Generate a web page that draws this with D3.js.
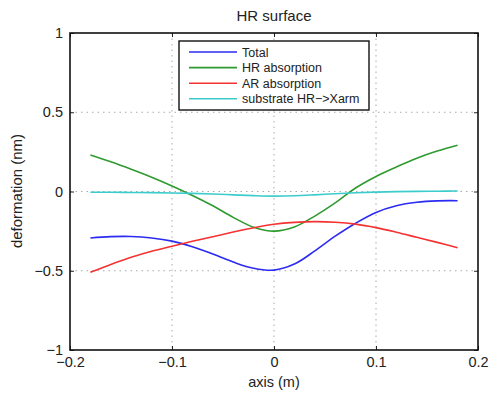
<!DOCTYPE html>
<html><head><meta charset="utf-8">
<script src="https://cdn.jsdelivr.net/npm/d3@7"></script>
<style>body{margin:0;background:#fff}text{font-family:"Liberation Sans",Arial,sans-serif}</style>
</head><body><svg id="c" width="491" height="396"></svg>
<script>
const xs = [-0.18,-0.16,-0.14,-0.12,-0.10,-0.08,-0.06,-0.04,-0.02,0.00,0.02,0.04,0.06,0.08,0.10,0.12,0.14,0.16,0.18];
const total = [-0.293,-0.285,-0.284,-0.293,-0.313,-0.348,-0.395,-0.445,-0.484,-0.496,-0.458,-0.375,-0.282,-0.2,-0.132,-0.09,-0.068,-0.059,-0.058];
const hrAbs = [0.23,0.187,0.14,0.09,0.035,-0.025,-0.09,-0.163,-0.225,-0.25,-0.224,-0.155,-0.072,0.022,0.095,0.155,0.21,0.255,0.292];
const arAbs = [-0.51,-0.46,-0.415,-0.377,-0.345,-0.314,-0.285,-0.256,-0.229,-0.207,-0.195,-0.19,-0.194,-0.206,-0.228,-0.257,-0.289,-0.321,-0.355];
const substrate = [-0.005,-0.005,-0.006,-0.007,-0.009,-0.012,-0.016,-0.021,-0.026,-0.029,-0.027,-0.021,-0.014,-0.008,-0.004,-0.001,0.001,0.002,0.003];
const seriesNames = ["Total","HR absorption","AR absorption","substrate HR\u2212>Xarm"];
const seriesColors = ["#2b2bf2","#2f9a2f","#f53232","#3ccccc"];
const xTicks = [-0.2,-0.1,0,0.1,0.2];
const yTicks = [-1,-0.5,0,0.5,1];

const svg = d3.select("#c");
const L=70,R=478,T=33,B=350;
const x = d3.scaleLinear().domain([-0.2,0.2]).range([L,R]);
const y = d3.scaleLinear().domain([-1,1]).range([B,T]);
const fmt = v => (v<0?"\u2212":"") + Math.abs(v);

// grid
const g = svg.append("g");
g.selectAll(".gx").data(xTicks.slice(1,-1)).enter().append("line")
 .attr("x1",d=>x(d)).attr("x2",d=>x(d)).attr("y1",T).attr("y2",B)
 .attr("stroke","#aaa").attr("stroke-width",1).attr("stroke-dasharray","1.5,4");
g.selectAll(".gy").data(yTicks.slice(1,-1)).enter().append("line")
 .attr("y1",d=>y(d)).attr("y2",d=>y(d)).attr("x1",L).attr("x2",R)
 .attr("stroke","#aaa").attr("stroke-width",1).attr("stroke-dasharray","1.5,4");

// axes
const ax = svg.append("g").attr("transform",`translate(0,${B})`)
 .call(d3.axisBottom(x).tickValues(xTicks).tickSizeInner(-4).tickSizeOuter(0).tickPadding(7).tickFormat(fmt));
const ay = svg.append("g").attr("transform",`translate(${L},0)`)
 .call(d3.axisLeft(y).tickValues(yTicks).tickSizeInner(-4).tickSizeOuter(0).tickPadding(7).tickFormat(fmt));
const axT = svg.append("g").attr("transform",`translate(0,${T})`)
 .call(d3.axisTop(x).tickValues(xTicks).tickSizeInner(-4).tickSizeOuter(0).tickFormat(""));
const ayR = svg.append("g").attr("transform",`translate(${R},0)`)
 .call(d3.axisRight(y).tickValues(yTicks).tickSizeInner(-4).tickSizeOuter(0).tickFormat(""));
[ax,ay,axT,ayR].forEach(a=>{a.select(".domain").remove();a.selectAll("line").attr("stroke","#222");
 a.selectAll("text").attr("font-size",14.5).attr("fill","#222").attr("font-family","Liberation Sans, Arial, sans-serif");});
svg.append("rect").attr("x",L).attr("y",T).attr("width",R-L).attr("height",B-T)
 .attr("fill","none").attr("stroke","#111").attr("stroke-width",1.6);

// lines
const data = [total,hrAbs,arAbs,substrate];
const line = d3.line().x((d,i)=>x(xs[i])).y(d=>y(d)).curve(d3.curveCatmullRom.alpha(0.5));
data.forEach((s,k)=>{
 svg.append("path").attr("d",line(s)).attr("fill","none").attr("stroke",seriesColors[k]).attr("stroke-width",1.6);
});

// legend
const lg = svg.append("g");
lg.append("rect").attr("x",179).attr("y",41).attr("width",190).attr("height",69)
 .attr("fill","#fff").attr("stroke","#111").attr("stroke-width",1.4);
seriesNames.forEach((n,i)=>{
 const yy = 52 + i*15.6;
 lg.append("line").attr("x1",189).attr("x2",237).attr("y1",yy).attr("y2",yy).attr("stroke",seriesColors[i]).attr("stroke-width",1.6);
 lg.append("text").attr("x",242).attr("y",yy+4.5).attr("font-size",12.5).attr("fill","#222").text(n);
});

// titles
svg.append("text").attr("x",274).attr("y",21).attr("text-anchor","middle").attr("font-size",15).attr("fill","#222").text("HR surface");
svg.append("text").attr("x",274).attr("y",387).attr("text-anchor","middle").attr("font-size",14.5).attr("fill","#222").text("axis (m)");
svg.append("text").attr("transform","translate(22,191) rotate(-90)").attr("text-anchor","middle").attr("font-size",15).attr("fill","#222").text("deformation (nm)");
</script></body></html>
